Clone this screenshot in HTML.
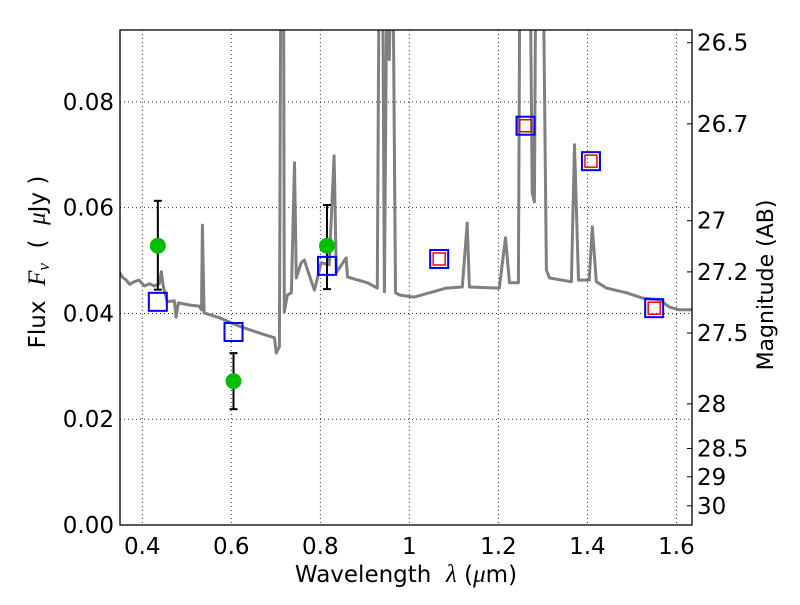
<!DOCTYPE html>
<html><head><meta charset="utf-8"><style>
html,body{margin:0;padding:0;background:#fff;}
svg text{font-family:"DejaVu Sans","Liberation Sans",sans-serif;}
</style></head><body>
<svg id="chart" width="800" height="600" xmlns="http://www.w3.org/2000/svg">
<rect width="800" height="600" fill="#fff"/>
<defs><clipPath id="clip"><rect x="120" y="30" width="572" height="495"/></clipPath></defs>
<g id="grid"></g>
<g id="plot" clip-path="url(#clip)"></g>
<rect x="120" y="30" width="572" height="495" fill="none" stroke="#000" stroke-width="1.3"/>
<g id="axes"></g>
<text x="406" y="582" font-size="23" text-anchor="middle">Wavelength&#160;&#160;<tspan font-style="italic" font-family="Liberation Serif" font-size="25">λ</tspan>&#160;(<tspan font-style="italic" font-family="Liberation Serif" font-size="25">μ</tspan>m)</text>
<text transform="translate(45,262) rotate(-90)" font-size="23" text-anchor="middle">Flux&#160;&#160;<tspan font-style="italic" font-family="Liberation Serif" font-size="25">F</tspan><tspan font-style="italic" font-family="Liberation Serif" font-size="17" dy="4">ν</tspan><tspan dy="-4">&#160;&#160;(&#160;&#160;</tspan><tspan font-style="italic" font-family="Liberation Serif" font-size="25">μ</tspan>Jy&#160;)</text>
<text transform="translate(773,285) rotate(-90)" font-size="22" text-anchor="middle">Magnitude (AB)</text>
</svg>
<script>
const specLam=[0.348,0.356,0.364,0.372,0.382,0.393,0.405,0.416,0.427,0.438,0.443,0.447,0.456,0.472,0.476,0.481,0.506,0.528,0.533,0.535,0.539,0.573,0.618,0.663,0.697,0.701,0.708,0.712,0.717,0.719,0.726,0.735,0.742,0.746,0.757,0.764,0.775,0.787,0.802,0.820,0.831,0.836,0.858,0.861,0.906,0.928,0.933,0.939,0.944,0.951,0.955,0.962,0.969,0.978,1.011,1.045,1.083,1.119,1.130,1.135,1.202,1.216,1.225,1.245,1.249,1.270,1.276,1.281,1.285,1.299,1.308,1.315,1.364,1.371,1.380,1.404,1.411,1.420,1.443,1.488,1.524,1.562,1.584,1.607,1.636];
const specFlux=[0.0479,0.0468,0.0463,0.0455,0.0460,0.0463,0.0452,0.0456,0.0452,0.0456,0.0479,0.0452,0.0422,0.0424,0.0393,0.0420,0.0416,0.0414,0.0407,0.0567,0.0401,0.0392,0.0376,0.0363,0.0354,0.0325,0.0337,0.12,0.12,0.0403,0.0435,0.0439,0.0685,0.0467,0.0496,0.0501,0.0473,0.0444,0.0496,0.0492,0.0698,0.0477,0.0505,0.0469,0.0458,0.0448,0.12,0.12,0.0441,0.12,0.0880,0.12,0.0439,0.0435,0.0431,0.0439,0.0448,0.0450,0.0571,0.0450,0.0448,0.0543,0.0458,0.0458,0.12,0.12,0.0628,0.0611,0.12,0.12,0.0482,0.0467,0.0460,0.0719,0.0463,0.0463,0.0564,0.0460,0.0448,0.0439,0.0429,0.0426,0.0412,0.0407,0.0407];
const obsLam=[0.435,0.605,0.815];
const obsFlux=[0.0528,0.0272,0.0528];
const obsHi=[0.0613,0.0325,0.0605];
const obsLo=[0.0445,0.0219,0.0446];
const modLam=[0.435,0.605,0.815,1.067,1.261,1.408,1.550];
const modFlux=[0.0422,0.0365,0.0490,0.0503,0.0755,0.0688,0.0410];
const redLam=[1.067,1.261,1.408,1.550];
const redFlux=[0.0503,0.0755,0.0688,0.0410];
const xTicks=[0.4,0.6,0.8,1.0,1.2,1.4,1.6];
const xTickLabels=["0.4","0.6","0.8","1","1.2","1.4","1.6"];
const yTicks=[0,0.02,0.04,0.06,0.08];
const yTickLabels=["0.00","0.02","0.04","0.06","0.08"];
const magTicks=[26.5,26.7,27,27.2,27.5,28,28.5,29,30];
const magTickLabels=["26.5","26.7","27","27.2","27.5","28","28.5","29","30"];

const X0=120,X1=692,Y0=525,Y1=30,XMIN=0.35,XMAX=1.635,YMIN=0,YMAX=0.0936;
const sx=v=>X0+(v-XMIN)/(XMAX-XMIN)*(X1-X0);
const sy=v=>Y0-(v-YMIN)/(YMAX-YMIN)*(Y0-Y1);
const NS="http://www.w3.org/2000/svg";
function mk(parent,tag,attrs){const e=document.createElementNS(NS,tag);for(const k in attrs)e.setAttribute(k,attrs[k]);parent.appendChild(e);return e;}
const grid=document.getElementById('grid'),plot=document.getElementById('plot'),axes=document.getElementById('axes');

xTicks.forEach((t,i)=>{
  const g=mk(grid,'line',{x1:sx(t),x2:sx(t),y1:Y1,y2:Y0,stroke:'#000','stroke-width':0.8,'stroke-dasharray':'1,3'});
  
  
  const tx=mk(axes,'text',{x:sx(t),y:554,'font-size':23,'text-anchor':'middle'});
  tx.textContent=xTickLabels[i];
  
  
});
yTicks.forEach((t,i)=>{
  if(t>0){const g=mk(grid,'line',{x1:X0,x2:X1,y1:sy(t),y2:sy(t),stroke:'#000','stroke-width':0.8,'stroke-dasharray':'1,3'});
  
  }
  const tx=mk(axes,'text',{x:114,y:sy(t)+8,'font-size':23,'text-anchor':'end'});
  tx.textContent=yTickLabels[i];
  
  
});
magTicks.forEach((m,i)=>{
  const f=Math.pow(10,(23.9-m)/2.5);const y=sy(f);
  const tk=mk(axes,'line',{x1:X1-5,x2:X1,y1:y,y2:y,stroke:'#000','stroke-width':1});
  
  
  const tx=mk(axes,'text',{x:697,y:y+8,'font-size':23});
  tx.textContent=magTickLabels[i];
  
  
});

const pts=specLam.map((l,i)=>sx(l).toFixed(1)+','+sy(specFlux[i]).toFixed(1)).join(' ');
const sp=mk(plot,'polyline',{points:pts,fill:'none',stroke:'#808080','stroke-width':3,'stroke-linejoin':'round'});



obsLam.forEach((l,i)=>{
  const x=sx(l);
  const e=mk(plot,'line',{x1:x,x2:x,y1:sy(obsHi[i]),y2:sy(obsLo[i]),stroke:'#000','stroke-width':2});
  
  
  [obsHi[i],obsLo[i]].forEach(v=>{const c=mk(plot,'line',{x1:x-4,x2:x+4,y1:sy(v),y2:sy(v),stroke:'#000','stroke-width':2});
  
  });
});
modLam.forEach((l,i)=>{
  const r=mk(plot,'rect',{x:sx(l)-9,y:sy(modFlux[i])-9,width:18,height:18,fill:'none',stroke:'#0000ff','stroke-width':2});
  
  
});
redLam.forEach((l,i)=>{
  const r=mk(plot,'rect',{x:sx(l)-6,y:sy(redFlux[i])-6,width:12,height:12,fill:'none',stroke:'#ff0000','stroke-width':1.5});
  
  
});
obsLam.forEach((l,i)=>{
  const c=mk(plot,'circle',{cx:sx(l),cy:sy(obsFlux[i]),r:8,fill:'#00bf00'});
  
  
});
</script>
</body></html>
